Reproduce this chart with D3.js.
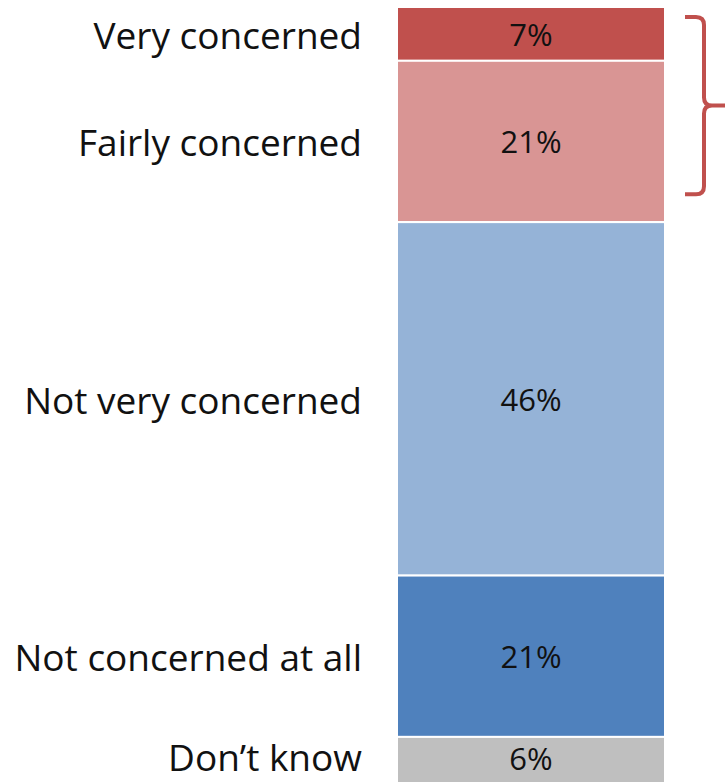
<!DOCTYPE html>
<html>
<script src="https://d3js.org/d3.v7.min.js"></script>
<body style="margin:0;background:#fff">
<div id="chart"></div>
<script>
    const categories = ["Very concerned", "Fairly concerned", "Not very concerned", "Not concerned at all", "Don\u2019t know"];
    const values = [7, 21, 46, 21, 6];
    const colors = ["#c0504d", "#d99594", "#95b3d7", "#4f81bd", "#bfbfbf"];

    const width = 725, height = 783;

    const svg = d3.select("#chart")
        .append("svg")
        .attr("width", width)
        .attr("height", height);

    // stack the single bar
    let acc = 0;
    const segs = values.map((v, i) => {
        const s = { name: categories[i], value: v, y0: acc, y1: acc + v, color: colors[i] };
        acc += v;
        return s;
    });

    const y = d3.scaleLinear()
        .domain([0, d3.sum(values)])
        .range([7, 783]);

    const x0 = 397, x1 = 665;

    svg.selectAll("rect.seg")
        .data(segs)
        .join("rect")
        .attr("class", "seg")
        .attr("x", x0)
        .attr("width", x1 - x0)
        .attr("y", d => y(d.y0))
        .attr("height", d => y(d.y1) - y(d.y0))
        .attr("fill", d => d.color)
        .attr("stroke", "#fff")
        .attr("stroke-width", 2);

    svg.selectAll("text.val")
        .data(segs)
        .join("text")
        .attr("class", "val")
        .attr("x", (x0 + x1) / 2)
        .attr("y", (d, i) => (y(d.y0) + y(d.y1)) / 2 + (i === segs.length - 1 ? -1 : 1))
        .attr("dy", "0.35em")
        .attr("text-anchor", "middle")
        .attr("font-family", "Open Sans, sans-serif")
        .attr("font-size", 31)
        .attr("fill", "#111")
        .text(d => d.value + "%");

    // last label sits right at the bottom edge, lift it a little
    svg.selectAll("text.cat")
        .data(segs)
        .join("text")
        .attr("class", "cat")
        .attr("x", 362)
        .attr("y", (d, i) => (y(d.y0) + y(d.y1)) / 2 + (i === segs.length - 1 ? -2 : 2))
        .attr("dy", "0.35em")
        .attr("text-anchor", "end")
        .attr("font-family", "Open Sans, sans-serif")
        .attr("font-size", 37)
        .attr("fill", "#111")
        .text(d => d.name);

    // bracket grouping the two "concerned" answers
    const bTop = y(segs[0].y0) + 10, bBot = y(segs[1].y1) - 28;
    const bMid = (bTop + bBot) / 2;
    const bx = 704, r = 8;
    svg.append("path")
        .attr("fill", "none")
        .attr("stroke", "#c0504d")
        .attr("stroke-width", 4)
        .attr("d", `M685,${bTop} H${bx - r} Q${bx},${bTop} ${bx},${bTop + r} V${bMid - r} Q${bx},${bMid} ${bx + r},${bMid} H${width}
                    M${bx + r},${bMid} Q${bx},${bMid} ${bx},${bMid + r} V${bBot - r} Q${bx},${bBot} ${bx - r},${bBot} H685`);
</script>
</body>
</html>
